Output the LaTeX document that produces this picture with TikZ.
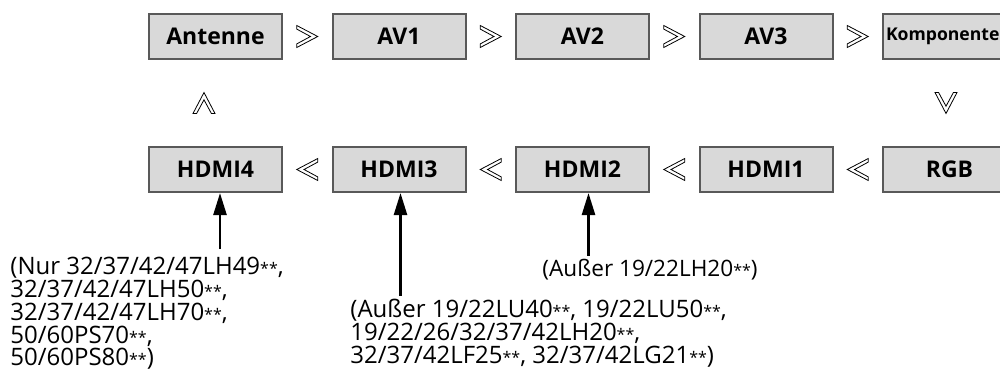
\documentclass[tikz,border=0pt]{standalone}
\usepackage{fontspec}
\setmainfont{Open Sans}
\newfontfamily\notefont{Open Sans}
\usepackage{tikz}
\usetikzlibrary{arrows.meta,positioning,calc}
% the small stars after the model names
\newcommand\stars{{\fontsize{8}{8}\selectfont**}}

\begin{document}
\begin{tikzpicture}[
    node distance=43pt and 24.25pt,
    box/.style={draw=black!65, line width=1pt, fill=black!15, minimum width=66.5pt,
      minimum height=22.5pt, inner sep=0pt, font=\fontsize{11.5}{13}\selectfont\bfseries},
    note/.style={anchor=north west, inner sep=0pt, align=left,
      font=\notefont\fontsize{12}{11.4}\selectfont},
    arrow/.style={-{Triangle[length=11pt, width=6.5pt]}, line width=1.25pt},
    chev/.pic={\draw[line width=0.4pt, fill=white]
      (-5.25pt,5.5pt) -- (5.25pt,0pt) -- (-5.25pt,-5.5pt) -- (-5.25pt,-3.7pt)
      -- (1.6pt,0pt) -- (-5.25pt,3.7pt) -- cycle;}
  ]
    % frame of the page, the last box runs off the right edge
    \clip (-107.75pt,18.25pt) rectangle (392.25pt,-171.75pt);

    \node[box] (ant) at (0,0) {Antenne};
    \node[box, right=of ant] (av1) {AV1};
    \node[box, right=of av1] (av2) {AV2};
    \node[box, right=of av2] (av3) {AV3};
    \node[box, right=of av3, inner xsep=1.5pt, text width=63.5pt, align=left,
      font=\fontsize{8.8}{11}\selectfont\bfseries] (komp) {Komponente};

    \node[box, below=of ant] (hd4) {HDMI4};
    \node[box, right=of hd4] (hd3) {HDMI3};
    \node[box, right=of hd3] (hd2) {HDMI2};
    \node[box, right=of hd2] (hd1) {HDMI1};
    \node[box, right=of hd1] (rgb) {RGB};

    \pic at ($(ant.east)!0.5!(av1.west)$) {chev};
    \pic at ($(av1.east)!0.5!(av2.west)$) {chev};
    \pic at ($(av2.east)!0.5!(av3.west)$) {chev};
    \pic at ($(av3.east)!0.5!(komp.west)$) {chev};
    \pic[rotate=-90] at ($(komp.south)!0.5!(rgb.north)+(-1.75pt,0)$) {chev};
    \pic[rotate=180] at ($(hd1.east)!0.5!(rgb.west)$) {chev};
    \pic[rotate=180] at ($(hd2.east)!0.5!(hd1.west)$) {chev};
    \pic[rotate=180] at ($(hd3.east)!0.5!(hd2.west)$) {chev};
    \pic[rotate=180] at ($(hd4.east)!0.5!(hd3.west)$) {chev};
    \pic[rotate=90] at ($(hd4.north)!0.5!(ant.south)+(-5.75pt,0)$) {chev};

    \node[note] (n4) at (-102.75pt,-110.25pt) {(Nur 32/37/42/47LH49\stars,\\
    32/37/42/47LH50\stars,\\
    32/37/42/47LH70\stars,\\
    50/60PS70\stars,\\
    50/60PS80\stars)};
    \node[note, font=\notefont\fontsize{12}{8}\selectfont] (n3) at (67.25pt,-131.25pt)
    {(Außer 19/22LU40\stars, 19/22LU50\stars,\\
    19/22/26/32/37/42LH20\stars,\\
    32/37/42LF25\stars, 32/37/42LG21\stars)};
    \node[note, font=\notefont\fontsize{11.3}{11.4}\selectfont] (n2) at (163.25pt,-111pt)
    {(Außer 19/22LH20\stars)};

    \draw[arrow] ($(hd4.south |- n4.north)+(2.25pt,4pt)$) -- ($(hd4.south)+(2.25pt,0)$);
    \draw[arrow] ($(hd3.south |- n3.north)+(0.75pt,1.5pt)$) -- ($(hd3.south)+(0.75pt,0)$);
    \draw[arrow] ($(hd2.south |- n2.north)+(3pt,1.5pt)$) -- ($(hd2.south)+(3pt,0)$);
  \end{tikzpicture}
\end{document}
